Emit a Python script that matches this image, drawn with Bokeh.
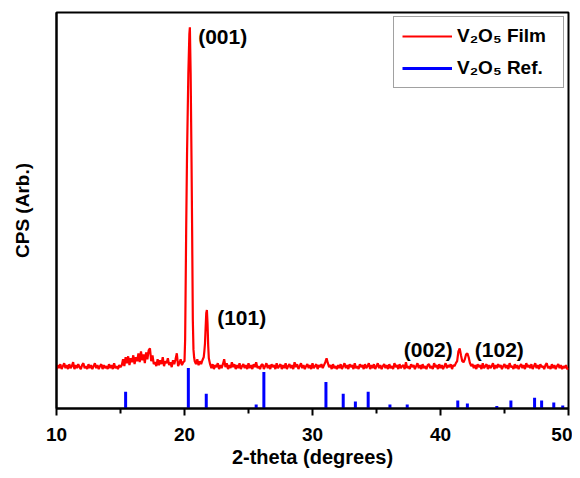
from bokeh.plotting import figure
from bokeh.models import Range1d, FixedTicker, Legend
from bokeh.core.properties import value
from bokeh.embed import file_html
from bokeh.resources import INLINE

# ---------------- data ----------------
# film pattern, part 1: 10.0 .. 19.9 deg, 0.1 deg step
film_cps_low = [
    40, 44, 41, 45, 40, 43, 46, 41, 44, 40,
    45, 41, 43, 47, 40, 44, 41, 45, 42, 40,
    44, 46, 41, 43, 40, 45, 41, 44, 40, 43,
    46, 41, 44, 40, 43, 45, 40, 44, 41, 43,
    40, 45, 41, 44, 40, 46, 41, 43, 40, 44,
    42,
    44, 50, 43, 52, 46, 53, 44, 51, 47, 54, 45, 52, 48, 56, 47, 58, 49, 55, 46, 57,
    50, 59, 61, 48, 54, 45,
    47, 43, 50, 44, 49, 45, 52, 43, 48, 46, 51, 44, 47, 42, 49, 45, 50, 56, 43, 46,
    50, 44, 47,
]
film_low_start = 10.0

# film pattern, part 2: (001) and (101) peaks
peak_2theta = [20.0, 20.05, 20.08, 20.13, 20.2, 20.3, 20.38, 20.42, 20.48, 20.55,
               20.6, 20.65, 20.7, 20.75, 20.8, 20.9, 21.0, 21.1, 21.2, 21.3,
               21.4, 21.5, 21.55, 21.6, 21.65, 21.7, 21.75, 21.8, 21.85, 21.9,
               22.0]
peak_cps = [48, 70, 110, 180, 260, 340, 380, 387, 340, 250,
            175, 90, 60, 52, 48, 45, 50, 44, 48, 45,
            49, 52, 58, 66, 82, 97, 100, 86, 64, 51,
            45]

# film pattern, part 3: 22.1 .. 50.0 deg, 0.1 deg step
film_cps_high = [
    41, 45, 40, 44, 42, 46, 40, 44, 41, 45,
    50, 42, 46, 40, 44, 41, 47, 42, 45, 40,
    44, 41, 46, 40, 43, 45, 41, 44, 40, 46,
    41, 44, 40, 45, 42, 47, 41, 43, 40, 44,
    45, 40, 43, 46, 41, 44, 40, 45, 42, 44,
    40, 46, 41, 43, 45, 40, 44, 41, 46, 40,
    43, 45, 41, 44, 40, 47, 42, 45, 40, 43,
    46, 41, 44, 40, 43, 45, 41, 44, 40, 46,
    41, 43, 45, 40, 44, 42, 45, 41, 44, 47,
    51, 46, 42, 44, 40, 45, 41, 43, 40, 44,
    41, 45, 40, 43, 46, 41, 44, 40, 45, 42,
    44, 40, 46, 41, 43, 40, 45, 42, 44, 40,
    45, 41, 43, 46, 40, 44, 41, 45, 40, 43,
    46, 41, 44, 40, 43, 45, 41, 44, 40, 45,
    41, 43, 40, 46, 42, 44, 40, 45, 41, 43,
    44, 40, 47, 41, 43, 40, 45, 42, 44, 40,
    43, 46, 41, 44, 40, 45, 41, 43, 40, 44,
    45, 41, 43, 40, 46, 42, 44, 40, 45, 41,
    44, 40, 43, 46, 41, 44, 42, 45, 40, 44,
    43, 46, 48, 58, 61, 54, 48, 47, 50, 55,
    56, 52, 46, 43, 45, 41, 44, 40, 45, 42,
    44, 40, 46, 41, 43, 45, 40, 44, 41, 43,
    46, 40, 44, 41, 45, 42, 44, 40, 43, 45,
    41, 44, 40, 46, 42, 43, 40, 45, 41, 44,
    40, 43, 45, 41, 44, 40, 46, 42, 44, 41,
    45, 40, 43, 46, 41, 44, 40, 45, 42, 43,
    40, 44, 46, 41, 43, 40, 45, 41, 44, 40,
    43, 45, 41, 44, 40, 43, 41, 44, 40, 41,
]
film_high_start = 22.1
film_step = 0.1

# reference stick pattern
ref_2theta = [15.4, 20.3, 21.7, 25.6, 26.2, 31.05, 32.4, 33.35, 34.35, 36.05,
              37.4, 41.35, 42.1, 44.4, 45.5, 47.35, 47.9, 48.85, 49.55]
ref_int = [17, 41, 15, 4, 37, 27, 15, 7, 17, 4,
           4, 8, 5, 2.5, 8, 11, 8, 6, 3]

# peak labels
peak_labels = ["(001)", "(101)", "(002)", "(102)"]
peak_label_x = [21.07, 22.55, 37.13, 42.68]
peak_label_y = [378, 92, 60, 60]

x_ticks = [10, 20, 30, 40, 50]
x_minor_ticks = [15, 25, 35, 45]

# ---------------- assemble film curve ----------------
film_x = [round(film_low_start + film_step * i, 2) for i in range(len(film_cps_low))]
film_x += peak_2theta
film_x += [round(film_high_start + film_step * i, 2) for i in range(len(film_cps_high))]
film_y = film_cps_low + peak_cps + film_cps_high

FONT = "Liberation Sans"

p = figure(width=572, height=470, output_backend="svg", toolbar_location=None,
           x_range=Range1d(10, 50), y_range=Range1d(0, 402),
           min_border_left=56, min_border_right=4, min_border_top=12,
           min_border_bottom=60)
p.background_fill_color = "white"
p.border_fill_color = "white"
p.outline_line_color = "black"
p.outline_line_width = 2
p.xgrid.visible = False
p.ygrid.visible = False

r_film = p.line(film_x, film_y, line_color="#ff0000", line_width=2.2)
r_ref = p.segment(x0=ref_2theta, y0=[0] * len(ref_2theta), x1=ref_2theta, y1=ref_int,
                  line_color="#0000ff", line_width=3)

p.text(x=peak_label_x, y=peak_label_y, text=peak_labels,
       text_font=value(FONT), text_font_size="21px", text_font_style="bold",
       text_color="black", text_align="left", text_baseline="middle")

# x axis
xa = p.xaxis[0]
xa.ticker = FixedTicker(ticks=x_ticks, minor_ticks=x_minor_ticks)
xa.axis_label = "2-theta (degrees)"
xa.axis_label_text_font = FONT
xa.axis_label_text_font_size = "20px"
xa.axis_label_text_font_style = "bold"
xa.axis_label_text_color = "black"
xa.axis_label_standoff = 2
xa.major_label_text_font = FONT
xa.major_label_text_font_size = "19px"
xa.major_label_text_font_style = "bold"
xa.major_label_text_color = "black"
xa.major_label_standoff = 12
xa.axis_line_width = 2
xa.axis_line_color = "black"
xa.major_tick_line_width = 2
xa.minor_tick_line_width = 2
xa.major_tick_out = 7
xa.major_tick_in = 0
xa.minor_tick_out = 5
xa.minor_tick_in = 0

# y axis
ya = p.yaxis[0]
ya.ticker = FixedTicker(ticks=[])
ya.axis_label = "CPS (Arb.)"
ya.axis_label_text_font = FONT
ya.axis_label_text_font_size = "19px"
ya.axis_label_text_font_style = "bold"
ya.axis_label_text_color = "black"
ya.axis_label_standoff = 24
ya.axis_line_width = 2
ya.axis_line_color = "black"
ya.major_tick_line_color = None
ya.minor_tick_line_color = None
ya.major_tick_out = 0
ya.minor_tick_out = 0
ya.major_label_text_font_size = "0px"

legend = Legend(items=[("V\u2082O\u2085 Film", [r_film]), ("V\u2082O\u2085 Ref.", [r_ref])],
                location="top_right", margin=4, padding=8, spacing=10,
                glyph_width=50, glyph_height=20, label_height=20, label_standoff=5,
                label_width=98,
                label_text_font=FONT, label_text_font_size="19px",
                label_text_font_style="bold", label_text_color="black",
                border_line_color="#444444", border_line_width=1,
                background_fill_color="white", background_fill_alpha=1)
p.add_layout(legend)

open("out.html", "w").write(file_html(p, INLINE))
